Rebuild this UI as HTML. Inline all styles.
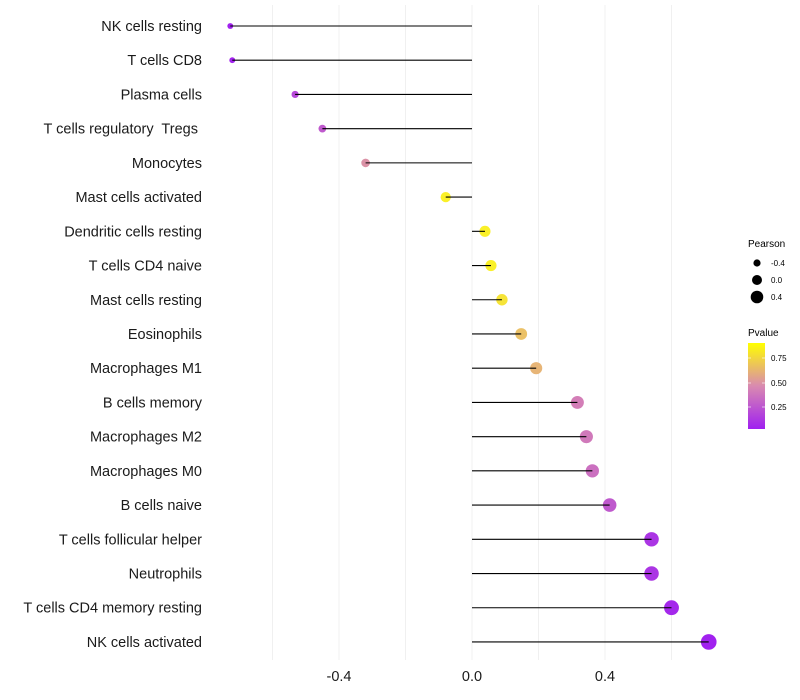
<!DOCTYPE html>
<html><head><meta charset="utf-8"><style>
body{margin:0;background:#fff;}
svg{display:block;font-family:"Liberation Sans",sans-serif;}
text{white-space:pre;}
</style></head><body>
<svg id="chart" width="800" height="700">
<defs>
<linearGradient id="pg" x1="0" y1="1" x2="0" y2="0">
<stop offset="0" stop-color="#A020F0"/><stop offset="0.5" stop-color="#D98AB0"/><stop offset="1" stop-color="#FFFF00"/>
</linearGradient>
</defs>
<g id="grid"></g>
<g id="marks"></g>
<g id="ylabels"></g>
<g id="xlabels"></g>
<g>
<text x="748" y="247" font-size="10" fill="#000">Pearson</text>
<circle cx="757" cy="263" r="3.6" fill="#000"/>
<text x="771" y="266" font-size="8">-0.4</text>
<circle cx="757" cy="280" r="5" fill="#000"/>
<text x="771" y="283" font-size="8">0.0</text>
<circle cx="757" cy="297" r="6.3" fill="#000"/>
<text x="771" y="300" font-size="8">0.4</text>
</g>
<g>
<text x="748" y="336" font-size="10">Pvalue</text>
<rect x="748" y="343" width="17" height="86" fill="url(#pg)"/>
<g stroke="#fff" stroke-opacity="0.6" stroke-width="1">
<line x1="748" y1="358" x2="751" y2="358"/><line x1="762" y1="358" x2="765" y2="358"/>
<line x1="748" y1="383" x2="751" y2="383"/><line x1="762" y1="383" x2="765" y2="383"/>
<line x1="748" y1="407" x2="751" y2="407"/><line x1="762" y1="407" x2="765" y2="407"/>
</g>
<text x="771" y="361" font-size="8">0.75</text>
<text x="771" y="386" font-size="8">0.50</text>
<text x="771" y="410" font-size="8">0.25</text>
</g>
</svg>
<script>
const categories=["NK cells resting","T cells CD8","Plasma cells","T cells regulatory  Tregs ","Monocytes","Mast cells activated","Dendritic cells resting","T cells CD4 naive","Mast cells resting","Eosinophils","Macrophages M1","B cells memory","Macrophages M2","Macrophages M0","B cells naive","T cells follicular helper","Neutrophils","T cells CD4 memory resting","NK cells activated"];
const pearson=[-0.727,-0.721,-0.532,-0.45,-0.32,-0.079,0.039,0.057,0.09,0.148,0.193,0.317,0.344,0.362,0.414,0.54,0.54,0.6,0.712];
const pvalues=[0.04,0.05,0.2,0.27,0.5,0.92,0.93,0.9,0.85,0.7,0.65,0.42,0.4,0.36,0.27,0.12,0.12,0.07,0.04];
const xTicks=[-0.4,0,0.4];
const xTickLabels=["-0.4","0.0","0.4"];
const gridVals=[-0.6,-0.4,-0.2,0,0.2,0.4,0.6];
const NS="http://www.w3.org/2000/svg";
const xs=v=>472+v*332.5;
const ys=i=>26+i*34.22;
const rs=v=>Math.max(2,5.4+3.4*v);
function col(p){
 const t=Math.min(1,Math.max(0,(p-0.036)/(0.9-0.036)));
 const a=[160,32,240],b=[217,138,176],c=[250,240,40];
 let u,s,e; if(t<0.5){u=t/0.5;s=a;e=b;}else{u=(t-0.5)/0.5;s=b;e=c;}
 return "rgb("+s.map((v,k)=>Math.round(v+(e[k]-v)*u)).join(",")+")";
}
function mk(tag,attrs,parent){const el=document.createElementNS(NS,tag);for(const k in attrs)el.setAttribute(k,attrs[k]);parent.appendChild(el);return el;}
const grid=document.getElementById('grid'),marks=document.getElementById('marks'),yl=document.getElementById('ylabels'),xl=document.getElementById('xlabels');
gridVals.forEach(v=>{
 const l=mk('line',{x1:xs(v),x2:xs(v),y1:5,y2:660,stroke:'#f0f0f0','stroke-width':1},grid);
 
 
});
categories.forEach((c,i)=>{
 const y=ys(i);
 const pt=mk('circle',{cx:xs(pearson[i]),cy:y,r:rs(pearson[i]),fill:col(pvalues[i])},marks);
 
 
 const ln=mk('line',{x1:xs(0),x2:xs(pearson[i]),y1:y,y2:y,stroke:'#000','stroke-width':1.1},marks);
 
 
 const t=mk('text',{x:202,y:y+5,'text-anchor':'end','font-size':14.5,fill:'#1a1a1a'},yl);
 t.textContent=c;
 
 
});
xTicks.forEach((v,i)=>{
 const t=mk('text',{x:xs(v),y:681,'text-anchor':'middle','font-size':14.5,fill:'#1a1a1a'},xl);
 t.textContent=xTickLabels[i];
 
 
});
</script>
</body></html>
